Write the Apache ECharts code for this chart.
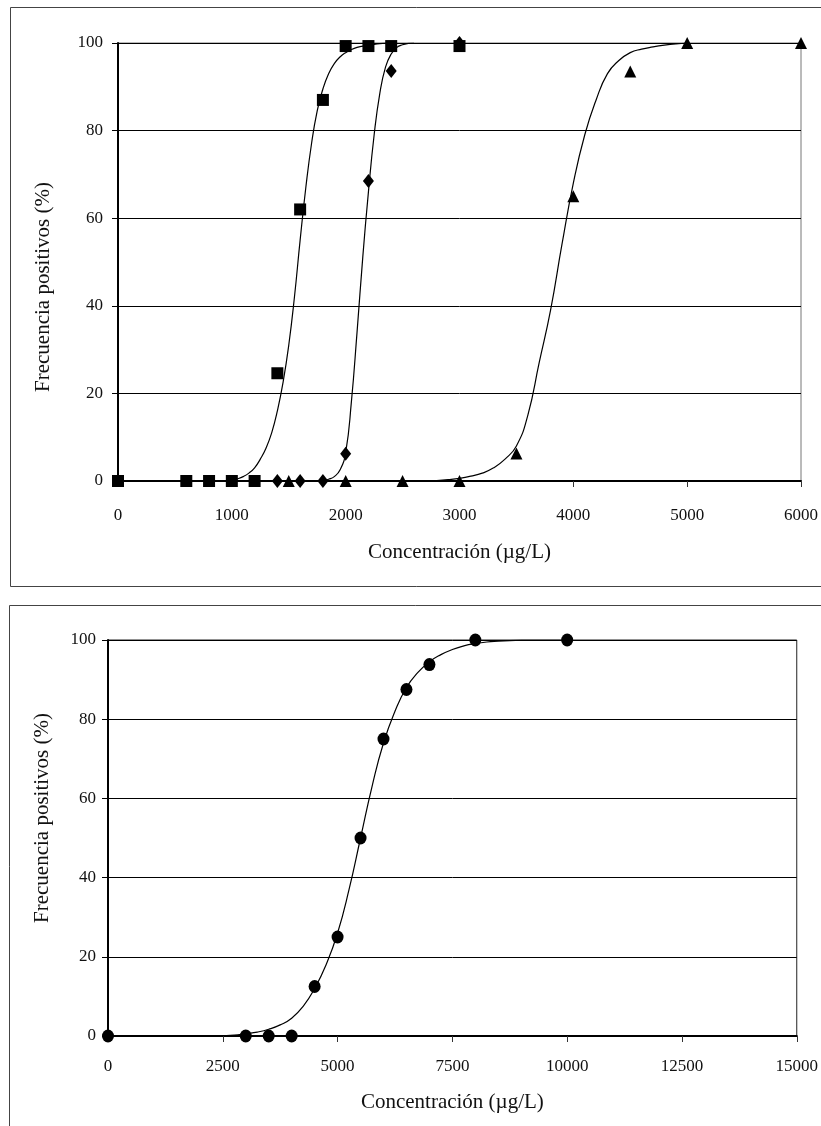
<!DOCTYPE html>
<html>
<head>
<meta charset="utf-8">
<script src="https://cdn.jsdelivr.net/npm/echarts@6/dist/echarts.min.js"></script>
<style>
  html, body { margin: 0; padding: 0; background: #fff; }
  #chart { width: 821px; height: 1126px; }
</style>
</head>
<body>
<div id="chart"></div>
<script>
// top chart: measured points
const squareConc = [0, 600, 800, 1000, 1200, 1400, 1600, 1800, 2000, 2200, 2400, 3000];
const squarePct = [0, 0, 0, 0, 0, 24.6, 62, 87, 99.3, 99.3, 99.3, 99.3];
const diamondConc = [1400, 1600, 1800, 2000, 2200, 2400, 3000];
const diamondPct = [0, 0, 0, 6.2, 68.5, 93.6, 100];
const triangleConc = [1500, 2000, 2500, 3000, 3500, 4000, 4500, 5000, 6000];
const trianglePct = [0, 0, 0, 0, 6.3, 65, 93.5, 100, 100];

// top chart: fitted curves
const squareFitConc = [0, 950, 1000, 1050, 1100, 1150, 1200, 1250, 1300, 1350, 1400, 1450, 1500, 1550, 1600, 1650, 1700, 1750, 1800, 1850, 1900, 1950, 2000, 2050, 2100, 2150, 2200, 2250, 2300, 2350, 2400];
const squareFitPct = [0, 0.1, 0.2, 0.5, 1, 1.8, 3, 5, 7.5, 11, 16, 22.5, 31, 42, 55, 67, 77, 84.5, 89.5, 93, 95.3, 96.8, 97.8, 98.5, 99, 99.3, 99.5, 99.7, 99.85, 99.95, 100];
const diamondFitConc = [0, 1750, 1800, 1850, 1900, 1950, 2000, 2050, 2100, 2150, 2200, 2250, 2300, 2350, 2400, 2450, 2500, 2550, 2600];
const diamondFitPct = [0, 0, 0.1, 0.4, 1, 2.5, 6.5, 18, 34, 51, 66, 79, 88.5, 94.5, 97.5, 99, 99.6, 99.9, 100];
const triangleFitConc = [0, 2700, 2800, 2900, 3000, 3100, 3200, 3300, 3400, 3500, 3600, 3700, 3800, 3900, 4000, 4100, 4200, 4300, 4400, 4500, 4600, 4700, 4800, 4900, 5000];
const triangleFitPct = [0, 0, 0.1, 0.3, 0.6, 1.1, 1.8, 3, 5, 8, 15, 27, 39, 54, 68, 79, 87, 93, 96, 97.8, 98.6, 99.1, 99.5, 99.8, 100];

// bottom chart
const circleConc = [0, 3000, 3500, 4000, 4500, 5000, 5500, 6000, 6500, 7000, 8000, 10000];
const circlePct = [0, 0, 0, 0, 12.5, 25, 50, 75, 87.5, 93.8, 100, 100];
const circleFitConc = [0, 2250, 2500, 2750, 3000, 3250, 3500, 3750, 4000, 4250, 4500, 4750, 5000, 5250, 5500, 5750, 6000, 6250, 6500, 6750, 7000, 7250, 7500, 7750, 8000, 8250, 8500, 8750, 9000, 9250, 10000];
const circleFitPct = [0, 0, 0.05, 0.2, 0.6, 1, 1.7, 2.8, 4.5, 7.5, 12, 18, 26, 37, 50, 63, 74, 82, 88, 91.8, 94.5, 96.3, 97.6, 98.5, 99.1, 99.5, 99.7, 99.85, 99.95, 100, 100];

const pctTicks = [0, 20, 40, 60, 80, 100];
const yTitle = 'Frecuencia positivos (%)';
const xTitle = 'Concentración (µg/L)';

const zip = (xs, ys) => xs.map((x, i) => [x, ys[i]]);

const font = 'Liberation Serif';
const black = '#000';

function xAxisCfg(gridIndex, max, interval, labelMargin, nameGap) {
  return {
    type: 'value',
    gridIndex,
    min: 0,
    max,
    interval,
    name: xTitle,
    nameLocation: 'middle',
    nameGap,
    nameTextStyle: { fontFamily: font, fontSize: 21, color: '#111' },
    axisLine: { show: true, onZero: false, lineStyle: { color: black, width: 2 } },
    axisTick: { show: true, length: 6, lineStyle: { color: '#333', width: 1 } },
    axisLabel: { fontFamily: font, fontSize: 17, color: '#111', margin: labelMargin, formatter: v => String(v) },
    splitLine: { show: false }
  };
}

function yAxisCfg(gridIndex, labelMargin) {
  return {
    type: 'value',
    gridIndex,
    min: 0,
    max: 100,
    interval: 20,
    axisLine: { show: true, lineStyle: { color: black, width: 2 } },
    axisTick: { show: true, length: 6, lineStyle: { color: black, width: 1 } },
    axisLabel: {
      fontFamily: font, fontSize: 17, color: '#111', margin: labelMargin,
      formatter: v => (pctTicks.includes(v) ? String(v) : '')
    },
    splitLine: { show: true, lineStyle: { color: black, width: 1 } }
  };
}

function curve(name, xi, xs, ys) {
  return {
    name, type: 'line', xAxisIndex: xi, yAxisIndex: xi,
    data: zip(xs, ys),
    showSymbol: false, symbol: 'none',
    smooth: 0.5,
    lineStyle: { color: black, width: 1.2 },
    z: 3, silent: true
  };
}

function dots(name, xi, xs, ys, symbol, size) {
  return {
    name, type: 'scatter', xAxisIndex: xi, yAxisIndex: xi,
    data: zip(xs, ys),
    symbol, symbolSize: size,
    itemStyle: { color: black, opacity: 1 },
    z: 5, silent: true
  };
}

function titleY(x, y) {
  return {
    type: 'text', x, y, rotation: Math.PI / 2, z: 10,
    style: { text: yTitle, fontFamily: font, fontSize: 21, fill: '#111', align: 'center', verticalAlign: 'middle' }
  };
}

const chart = echarts.init(document.getElementById('chart'), null, { renderer: 'canvas' });
chart.setOption({
  animation: false,
  backgroundColor: '#fff',
  graphic: [
    { type: 'rect', shape: { x: 10.5, y: 7.5, width: 830, height: 579 }, style: { fill: 'none', stroke: '#444', lineWidth: 1 }, z: 0 },
    { type: 'rect', shape: { x: 9.5, y: 605.5, width: 830, height: 540 }, style: { fill: 'none', stroke: '#444', lineWidth: 1 }, z: 0 },
    titleY(43, 287),
    titleY(42, 818)
  ],
  grid: [
    { left: 118, right: 19, top: 43, height: 438, show: true, borderColor: '#777', borderWidth: 1, backgroundColor: 'transparent' },
    { left: 108, right: 23, top: 640, height: 396, show: true, borderColor: '#222', borderWidth: 1, backgroundColor: 'transparent' }
  ],
  xAxis: [
    xAxisCfg(0, 6000, 1000, 26, 61),
    xAxisCfg(1, 15000, 2500, 22, 56)
  ],
  yAxis: [
    yAxisCfg(0, 15),
    yAxisCfg(1, 12)
  ],
  series: [
    curve('squareFit', 0, squareFitConc, squareFitPct),
    curve('diamondFit', 0, diamondFitConc, diamondFitPct),
    curve('triangleFit', 0, triangleFitConc, triangleFitPct),
    dots('triangle', 0, triangleConc, trianglePct, 'triangle', [12, 12]),
    dots('diamond', 0, diamondConc, diamondPct, 'diamond', [11, 14]),
    dots('square', 0, squareConc, squarePct, 'rect', [12, 12]),
    curve('circleFit', 1, circleFitConc, circleFitPct),
    dots('circle', 1, circleConc, circlePct, 'circle', [12, 13])
  ]
});
</script>
</body>
</html>
